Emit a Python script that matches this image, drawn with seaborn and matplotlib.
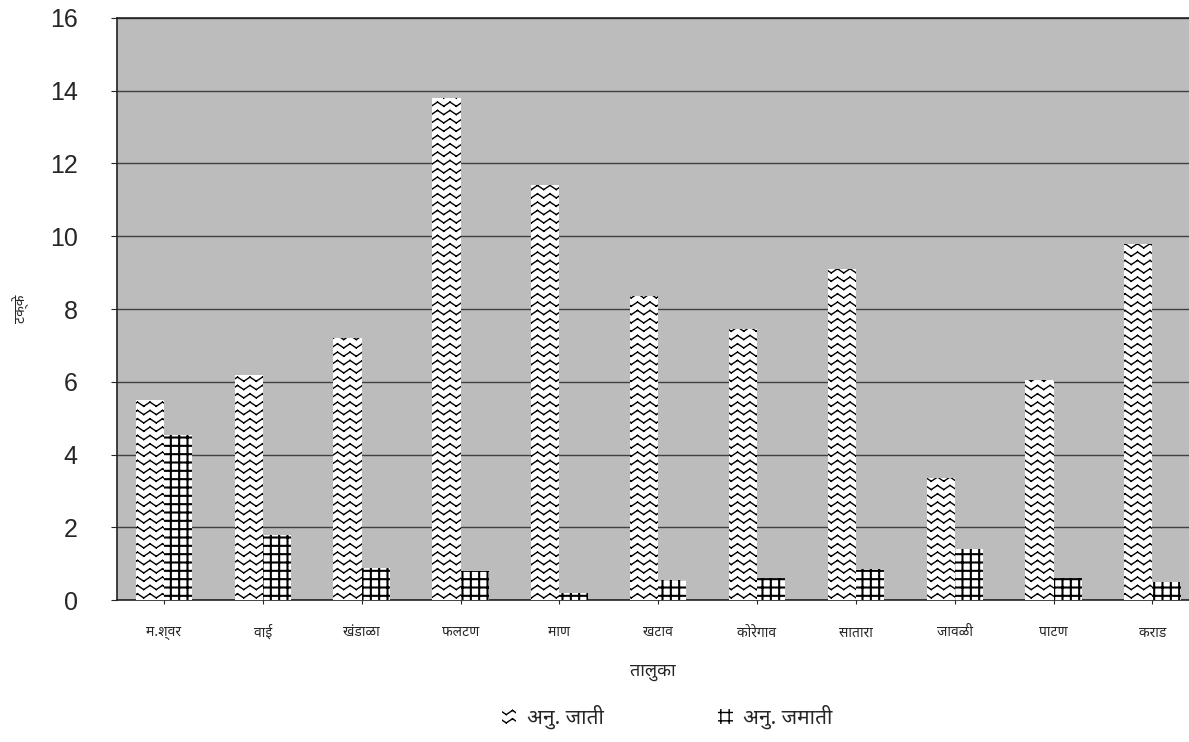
import numpy as np
import pandas as pd
import seaborn as sns
import matplotlib.pyplot as plt
from matplotlib import hatch as mhatch
from matplotlib.path import Path
from matplotlib.patches import Patch

talukas = ["म.श्वर", "वाई", "खंडाळा", "फलटण", "माण", "खटाव",
           "कोरेगाव", "सातारा", "जावळी", "पाटण", "कराड"]
sc_pct = [5.5, 6.2, 7.2, 13.8, 11.4, 8.35, 7.45, 9.1, 3.35, 6.05, 9.8]
st_pct = [4.55, 1.8, 0.9, 0.8, 0.2, 0.55, 0.6, 0.85, 1.4, 0.6, 0.5]
series_names = ["अनु. जाती", "अनु. जमाती"]


# zigzag hatch ('z') - matplotlib has no wavy hatch built in.
# each stroke is its own MOVETO/LINETO pair, otherwise agg fills the zigzag
class ZigzagHatch(mhatch.HatchPatternBase):
    teeth = 8

    def __init__(self, hatch, density):
        self.num_lines = int(hatch.count("z") * density)
        self.num_vertices = self.num_lines * self.teeth * 4

    def set_vertices_and_codes(self, vertices, codes):
        if self.num_lines == 0:
            return
        nseg = 2 * self.teeth
        steps, step = np.linspace(0.0, 1.0, self.num_lines, False, retstep=True)
        xs = np.linspace(0.0, 1.0, nseg + 1)
        amp = step * 0.25
        offs = np.where(np.arange(nseg + 1) % 2 == 0, amp, -amp)
        k = 0
        for y in steps:
            ys = y + step / 2 + offs
            for j in range(nseg):
                vertices[k] = (xs[j], ys[j])
                vertices[k + 1] = (xs[j + 1], ys[j + 1])
                codes[k] = Path.MOVETO
                codes[k + 1] = Path.LINETO
                k += 2


mhatch._hatch_types.append(ZigzagHatch)

df = pd.DataFrame({
    "taluka": talukas * 2,
    "pct": sc_pct + st_pct,
    "group": [series_names[0]] * len(talukas) + [series_names[1]] * len(talukas),
})

sns.set_style("white")
plt.rcParams["font.family"] = ["Noto Sans", "DejaVu Sans"]
plt.rcParams["hatch.linewidth"] = 1.0

fig = plt.figure(figsize=(11.89, 7.42), dpi=100)
ax = fig.add_axes([0.098, 0.191, 0.902, 0.785])
ax.set_facecolor("#bcbcbc")

sns.barplot(data=df, x="taluka", y="pct", hue="group", order=talukas,
            palette=["white", "white"], width=0.57, gap=0,
            edgecolor="black", linewidth=0, ax=ax, legend=False, zorder=3)

hatches = ["zz", "++"]
hatch_lw = [1.0, 1.5]
for cont, h, lw in zip(ax.containers, hatches, hatch_lw):
    for bar in cont:
        bar.set_hatch(h)
        if hasattr(bar, "set_hatch_linewidth"):
            bar.set_hatch_linewidth(lw)

ax.set_ylim(0, 16)
ax.set_xlim(-0.48, 10.37)
ax.set_yticks(range(0, 17, 2))
ax.yaxis.grid(True, color="#404040", linewidth=1.0, zorder=1)
ax.set_axisbelow(True)
ax.tick_params(axis="y", labelsize=18, length=4, left=True, pad=24)
for lab in ax.get_yticklabels():
    lab.set_family("Liberation Sans")
ax.tick_params(axis="x", labelsize=10, length=3, bottom=True, pad=15)
for side in ["top", "left", "bottom"]:
    ax.spines[side].set_color("#222222")
    ax.spines[side].set_linewidth(1.2)
ax.spines["right"].set_visible(False)

ax.set_xlabel("तालुका", fontsize=13, labelpad=16)
ax.set_ylabel("टक्के", fontsize=10, labelpad=14)

handles = []
for h, lw in zip(hatches, hatch_lw):
    p = Patch(facecolor="white", edgecolor="black", linewidth=0, hatch=h)
    if hasattr(p, "set_hatch_linewidth"):
        p.set_hatch_linewidth(lw)
    handles.append(p)
fig.legend(handles, series_names, loc="lower center", ncol=2, frameon=False,
           fontsize=15, bbox_to_anchor=(0.561, -0.008), columnspacing=5.5,
           handlelength=0.7, handleheight=0.7, handletextpad=0.5)

fig.savefig("out.png", dpi=100)
